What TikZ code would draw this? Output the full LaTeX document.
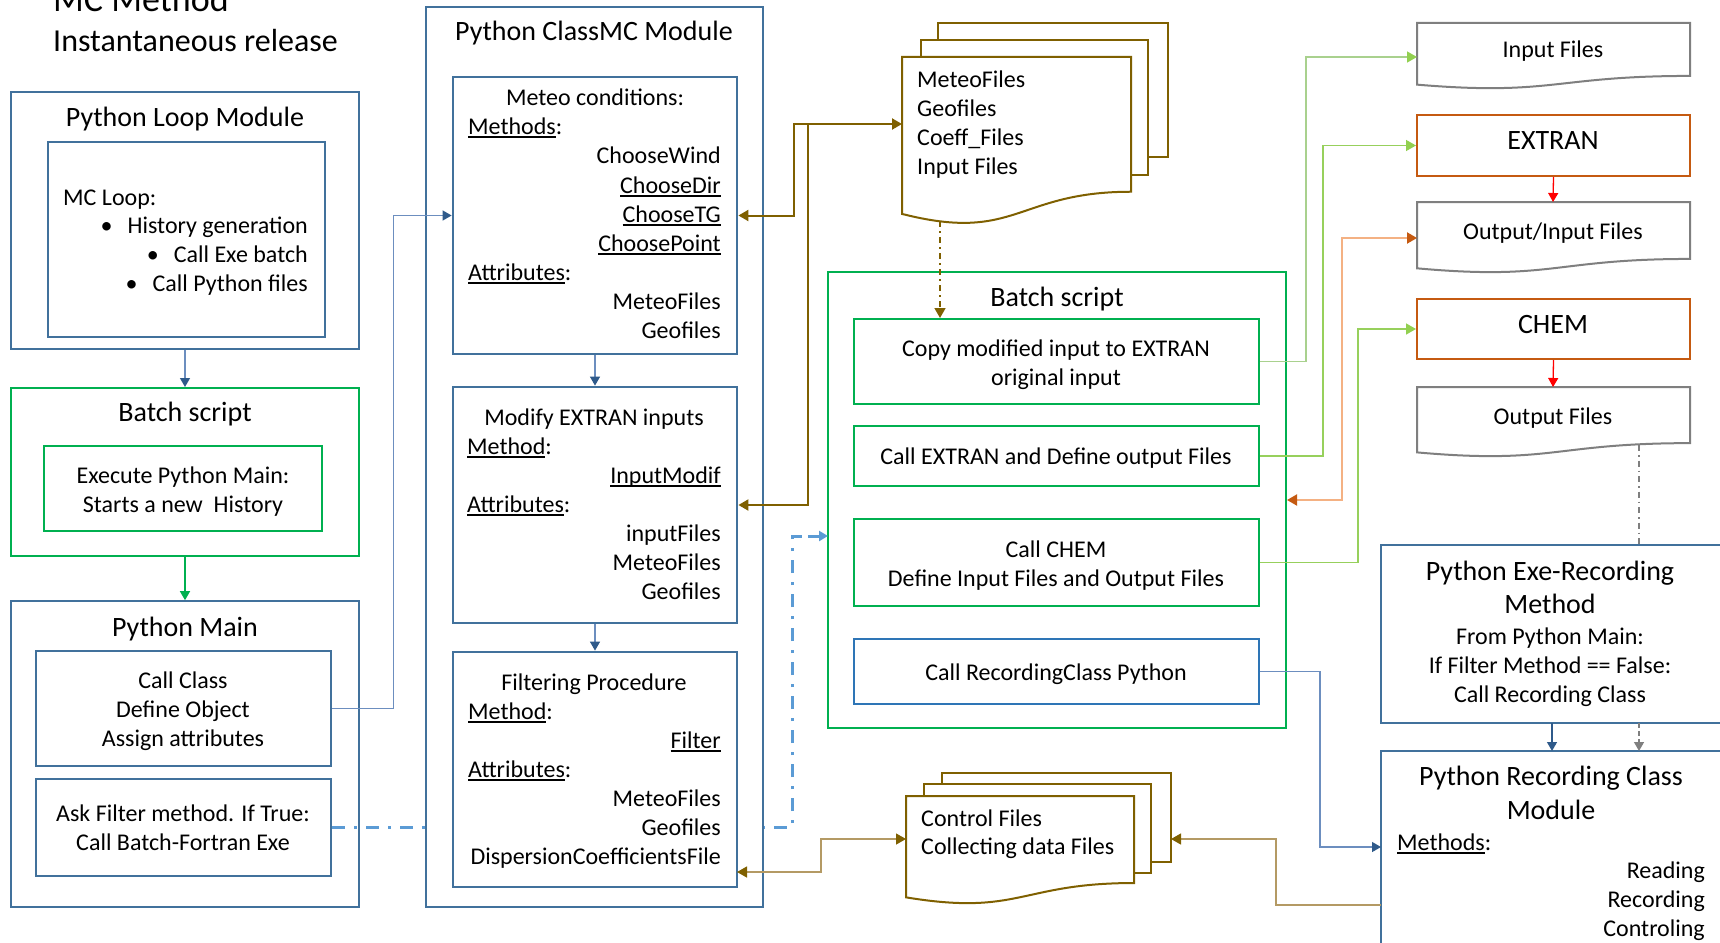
\documentclass[tikz,border=0pt]{standalone}
\usepackage{fontspec}
\setmainfont{Carlito}
\usetikzlibrary{arrows.meta}

% underline at a fixed depth below the baseline
\newcommand\undl[1]{\setbox0=\hbox{#1}\rlap{\rule[-3.6pt]{\wd0}{1.2pt}}\box0}

\definecolor{bxblue}{HTML}{41719C}
\definecolor{lnblue}{HTML}{6C8EBF}
\definecolor{hdblue}{HTML}{2F5A8A}
\definecolor{ddblue}{HTML}{5B9BD5}
\definecolor{bxgreen}{HTML}{00B050}
\definecolor{recblue}{HTML}{2E75B6}
\definecolor{brn}{HTML}{7F6000}
\definecolor{brnlt}{HTML}{B49A64}
\definecolor{ltgreen}{HTML}{A9D18E}
\definecolor{hdgreen}{HTML}{92D050}
\definecolor{org}{HTML}{C55A11}
\definecolor{orglt}{HTML}{F4B183}
\definecolor{gry}{HTML}{7F7F7F}
\definecolor{redarr}{HTML}{FF0000}

\pgfdeclarelayer{bg}
\pgfsetlayers{bg,main}

% rectangular box node from its corner coordinates
\newcommand\boxnode[6]{%
  \node[#1, inner sep=0pt, minimum width={#4-#2}, minimum height={#5-#3}]
    (#6) at ({(#2+#4)/2},{(#3+#5)/2}) {};}
% flowchart "document" outline: style, left, top, right, height
\newcommand\docshape[5]{%
  \draw[#1] (#2,#3) -- (#4,#3) -- (#4,{#3+0.802*#5})
    .. controls ({(#2+#4)/2},{#3+0.802*#5}) and ({(#2+#4)/2},{#3+1.1076*#5})
    .. (#2,{#3+0.934*#5}) -- cycle;}

\tikzset{
  TipBlue/.tip={Triangle[length=9pt,width=10pt,color=hdblue,fill=hdblue]},
  TipDD/.tip={Triangle[length=9pt,width=10pt,color=ddblue,fill=ddblue]},
  TipGreen/.tip={Triangle[length=9pt,width=10pt,color=bxgreen,fill=bxgreen]},
  TipLt/.tip={Triangle[length=10pt,width=11pt,color=hdgreen,fill=hdgreen]},
  TipBrn/.tip={Triangle[length=10pt,width=11pt,color=brn,fill=brn]},
  TipOrg/.tip={Triangle[length=10pt,width=11pt,color=org,fill=org]},
  TipRed/.tip={Triangle[length=9pt,width=10pt,color=redarr,fill=redarr]},
  TipGry/.tip={Triangle[length=9pt,width=10pt,color=gry,fill=gry]},
}

\begin{document}
\begin{tikzpicture}[x=1pt,y=-1pt,
  t/.style={inner sep=0pt, font=\fontsize{24}{29}\selectfont},
  tt/.style={inner sep=0pt, font=\fontsize{28}{34}\selectfont},
  outerblue/.style={draw=bxblue, line width=1.6pt},
  innerblue/.style={draw=bxblue, line width=2.8pt},
  greenbox/.style={draw=bxgreen, line width=2pt},
  recbox/.style={draw=recblue, line width=2pt},
  orgbox/.style={draw=org, line width=2pt},
  graydoc/.style={draw=gry, line width=2pt, fill=white},
  brndoc/.style={draw=brn, line width=2pt, fill=white},
  blueln/.style={draw=lnblue, line width=1.3pt},
  brnln/.style={draw=brn, line width=2pt},
  brnthin/.style={draw=brnlt, line width=1.3pt},
  greenln/.style={draw=ltgreen, line width=1.5pt},
  orgln/.style={draw=orglt, line width=2pt},
]
\useasboundingbox (0,0) rectangle (1720,942);
\clip (0,0) rectangle (1720,942);

% ---------- heading ----------
\node[inner sep=0pt, font=\fontsize{36}{40}\selectfont, anchor=base west] (head1) at (53,12) {MC Method};
\node[inner sep=0pt, font=\fontsize{32}{38}\selectfont, anchor=base west] (head2) at (53,52) {Instantaneous release};

% ---------- left column ----------
\boxnode{outerblue}{11}{92}{359}{349}{loopOuter}
\boxnode{innerblue}{48}{142}{325}{337}{loopInner}
\node[tt, anchor=base] (loopT) at (185,126) {Python Loop Module};
\node[t, anchor=base west] (loopL0) at (63,205) {MC Loop:};
\node[t, anchor=base east] (loopL1) at (308,233) {•\hspace{15pt}History generation};
\node[t, anchor=base east] (loopL2) at (308,262) {•\hspace{15pt}Call Exe batch};
\node[t, anchor=base east] (loopL3) at (308,291) {•\hspace{15pt}Call Python files};

\boxnode{greenbox}{11}{388}{359}{556}{batchL}
\boxnode{greenbox, line width=1.6pt}{44}{446}{322}{531}{execBox}
\node[tt, anchor=base] (batchLT) at (185,421) {Batch script};
\node[t, anchor=base] (exec1) at (183,483) {Execute Python Main:};
\node[t, anchor=base] (exec2) at (183,512) {Starts a new\ \ History};

\boxnode{outerblue}{11}{601}{359}{907}{mainOuter}
\boxnode{innerblue}{36}{651}{331}{766}{callClass}
\boxnode{innerblue}{36}{779}{331}{876}{askFilter}
\node[tt, anchor=base] (mainT) at (185,636) {Python Main};
\node[t, anchor=base] (cc1) at (183,688) {Call Class};
\node[t, anchor=base] (cc2) at (183,717) {Define Object};
\node[t, anchor=base] (cc3) at (183,746) {Assign attributes};
\node[t, anchor=base] (af1) at (183,821) {Ask Filter method. If True:};
\node[t, anchor=base] (af2) at (183,850) {Call Batch-Fortran Exe};

% ---------- class module ----------
\boxnode{outerblue, fill=white}{426}{7}{763}{907}{classOuter}
\node[tt, anchor=base] (classT) at (594,41) {Python ClassMC Module};
\boxnode{innerblue}{453}{77}{737}{354}{meteo}
\boxnode{innerblue}{453}{387}{737}{623}{modify}
\boxnode{innerblue}{453}{652}{737}{887}{filter}

\node[t, anchor=base] (me0) at (595,105) {Meteo conditions:};
\node[t, anchor=base west] (me1) at (468,134) {\undl{Methods}:};
\node[t, anchor=base east] (me2) at (721,163) {ChooseWind};
\node[t, anchor=base east] (me3) at (721,193) {\undl{ChooseDir}};
\node[t, anchor=base east] (me4) at (721,222) {\undl{ChooseTG}};
\node[t, anchor=base east] (me5) at (721,251) {\undl{ChoosePoint}};
\node[t, anchor=base west] (me6) at (468,280) {\undl{Attributes}:};
\node[t, anchor=base east] (me7) at (721,309) {MeteoFiles};
\node[t, anchor=base east] (me8) at (721,338) {Geofiles};

\node[t, anchor=base] (mo0) at (594,425) {Modify EXTRAN inputs};
\node[t, anchor=base west] (mo1) at (467,454) {\undl{Method}:};
\node[t, anchor=base east] (mo2) at (721,483) {\undl{InputModif}};
\node[t, anchor=base west] (mo3) at (467,512) {\undl{Attributes}:};
\node[t, anchor=base east] (mo4) at (721,541) {inputFiles};
\node[t, anchor=base east] (mo5) at (721,570) {MeteoFiles};
\node[t, anchor=base east] (mo6) at (721,599) {Geofiles};

\node[t, anchor=base] (fi0) at (594,690) {Filtering Procedure};
\node[t, anchor=base west] (fi1) at (468,719) {\undl{Method}:};
\node[t, anchor=base east] (fi2) at (721,748) {\undl{Filter}};
\node[t, anchor=base west] (fi3) at (468,777) {\undl{Attributes}:};
\node[t, anchor=base east] (fi4) at (721,806) {MeteoFiles};
\node[t, anchor=base east] (fi5) at (721,835) {Geofiles};
\node[t, anchor=base east] (fi6) at (721,864) {DispersionCoefficientsFile};

% ---------- file stacks ----------
\draw[brndoc] (938,23) rectangle (1168,157);
\draw[brndoc] (921,40) rectangle (1148,175);
\docshape{brndoc}{902}{57}{1131}{168}
\node[t, anchor=base west] (md1) at (917,87) {MeteoFiles};
\node[t, anchor=base west] (md2) at (917,116) {Geofiles};
\node[t, anchor=base west] (md3) at (917,145) {Coeff\_Files};
\node[t, anchor=base west] (md4) at (917,174) {Input Files};
\coordinate (meteoDocW) at (902,124);
\coordinate (meteoDocS) at (940,221);

\draw[brndoc] (942,773) rectangle (1171,862);
\draw[brndoc] (924,784) rectangle (1151,873);
\docshape{brndoc}{906}{796}{1134}{108.5}
\node[t, anchor=base west] (cd1) at (921,826) {Control Files};
\node[t, anchor=base west] (cd2) at (921,854) {Collecting data Files};
\coordinate (ctrlDocW) at (906,839);
\coordinate (ctrlDocE) at (1171,839);

% ---------- batch script (right) ----------
\boxnode{greenbox}{828}{272}{1286}{728}{batchR}
\node[tt, anchor=base] (batchRT) at (1057,306) {Batch script};
\boxnode{greenbox}{854}{319}{1259}{404}{copyBox}
\boxnode{greenbox}{854}{426}{1259}{486}{extranCall}
\boxnode{greenbox}{854}{519}{1259}{606}{chemCall}
\boxnode{recbox}{854}{639}{1259}{704}{recCall}
\node[t, anchor=base] (cp1) at (1056,356) {Copy modified input to EXTRAN};
\node[t, anchor=base] (cp2) at (1056,385) {original input};
\node[t, anchor=base] (ex1) at (1056,464) {Call EXTRAN and Define output Files};
\node[t, anchor=base] (ch1) at (1056,557) {Call CHEM};
\node[t, anchor=base] (ch2) at (1056,586) {Define Input Files and Output Files};
\node[t, anchor=base] (rc1) at (1056,680) {Call RecordingClass Python};

% ---------- right column ----------
\docshape{graydoc}{1417}{23}{1690}{66}
\node[t, anchor=base] (inDocT) at (1553,58) {Input Files};
\coordinate (inDocW) at (1417,57);
\boxnode{orgbox}{1417}{115}{1690}{176}{extranBox}
\node[tt, anchor=base] (extranT) at (1553,149) {EXTRAN};
\docshape{graydoc}{1417}{202}{1690}{71}
\node[t, anchor=base] (oiDocT) at (1553,239) {Output/Input Files};
\coordinate (oiDocW) at (1417,238);
\coordinate (oiDocN) at (1553,202);
\boxnode{orgbox}{1417}{299}{1690}{359}{chemBox}
\node[tt, anchor=base] (chemT) at (1553,333) {CHEM};
\docshape{graydoc}{1417}{387}{1690}{70}
\node[t, anchor=base] (outDocT) at (1553,424) {Output Files};
\coordinate (outDocN) at (1553,387);
\coordinate (outDocS) at (1639,445);

\boxnode{outerblue}{1381}{545}{1730}{723}{exeBox}
\node[tt, anchor=base] (exe1) at (1550,580) {Python Exe-Recording};
\node[tt, anchor=base] (exe2) at (1550,613) {Method};
\node[t, anchor=base] (exe3) at (1550,644) {From Python Main:};
\node[t, anchor=base] (exe4) at (1550,673) {If Filter Method == False:};
\node[t, anchor=base] (exe5) at (1550,702) {Call Recording Class};

\boxnode{outerblue}{1381}{751}{1730}{970}{recBox}
\node[tt, anchor=base] (rb1) at (1551,785) {Python Recording Class};
\node[tt, anchor=base] (rb2) at (1551,819) {Module};
\node[t, anchor=base west] (rb3) at (1397,850) {\undl{Methods}:};
\node[t, anchor=base east] (rb4) at (1705,878) {Reading};
\node[t, anchor=base east] (rb5) at (1705,907) {Recording};
\node[t, anchor=base east] (rb6) at (1705,936) {Controling};

% attachment points on box edges
\coordinate (modifyE) at (modify.east);
\coordinate (filterIn) at (737,872);
\coordinate (recBoxIn) at (1381,847);
\coordinate (recBoxOut) at (1381,905);
\coordinate (batchRIn) at (828,536);
\coordinate (exeS1) at (1552,723);
\coordinate (recN1) at (1552,751);
\coordinate (exeN2) at (1639,545);
\coordinate (exeS2) at (1639,723);
\coordinate (recN2) at (1639,751);

% ---------- connectors ----------
\draw[blueln, -TipBlue] (loopOuter.south) -- (batchL.north);
\draw[draw=bxgreen, line width=1.3pt, -TipGreen] (batchL.south) -- (mainOuter.north);
\draw[blueln, -TipBlue] (callClass.east) -- ++(61,0) |- (meteo.west);
\draw[blueln, -TipBlue] (meteo.south) -- (modify.north);
\draw[blueln, -TipBlue] (modify.south) -- (filter.north);

\begin{pgfonlayer}{bg}
  \draw[draw=ddblue, line width=3pt, dash pattern=on 13pt off 9pt on 3pt off 9pt]
    (askFilter.east) -- (792,827.5) -- (792,536) -- ([xshift=-10pt]batchRIn);
\end{pgfonlayer}
\draw[draw=ddblue, line width=3pt, -TipDD] ([xshift=-20pt]batchRIn) -- (batchRIn);

\draw[brnln, TipBrn-TipBrn] (meteo.east) -- (794,215.5) -- (794,124) -- (meteoDocW);
\draw[brnln, TipBrn-] (modifyE) -- (808,505) -- (808,124);
\draw[draw=brn, line width=1.6pt, dash pattern=on 6pt off 4pt on 2pt off 4pt, -TipBrn]
  (meteoDocS) -- (copyBox.north -| meteoDocS);
\draw[brnthin, TipBrn-TipBrn] (filterIn) -- (821,872) -- (821,839) -- (ctrlDocW);
\draw[brnthin, -TipBrn] (recBoxOut) -- (1276,905) -- (1276,839) -- (ctrlDocE);
\draw[blueln, -TipBlue] (recCall.east) -- (1320,671.5) -- (1320,847) -- (recBoxIn);

\draw[greenln, -TipLt] (copyBox.east) -- (1306,361.5) -- (1306,57) -- (inDocW);
\draw[greenln, draw=hdgreen!80!ltgreen, -TipLt] (extranCall.east) -- (1323,456) -- (1323,145.5) -- (extranBox.west);
\draw[orgln, TipOrg-TipOrg] (batchR.east) -- (1342,500) -- (1342,238) -- (oiDocW);
\draw[greenln, draw=hdgreen!80!ltgreen, -TipLt] (chemCall.east) -- (1358,562.5) -- (1358,329) -- (chemBox.west);

\draw[draw=redarr, line width=1.3pt, -TipRed] (extranBox.south) -- (oiDocN);
\draw[draw=redarr, line width=1.3pt, -TipRed] (chemBox.south) -- (outDocN);

\draw[draw=gry, line width=1.3pt, dash pattern=on 6pt off 4pt on 1.5pt off 4pt] (outDocS) -- (exeN2);
\draw[draw=hdblue, line width=1.3pt, -TipBlue] (exeS1) -- (recN1);
\draw[draw=gry, line width=1.3pt, dash pattern=on 5pt off 3pt, -TipGry] (exeS2) -- (recN2);
\end{tikzpicture}
\end{document}
